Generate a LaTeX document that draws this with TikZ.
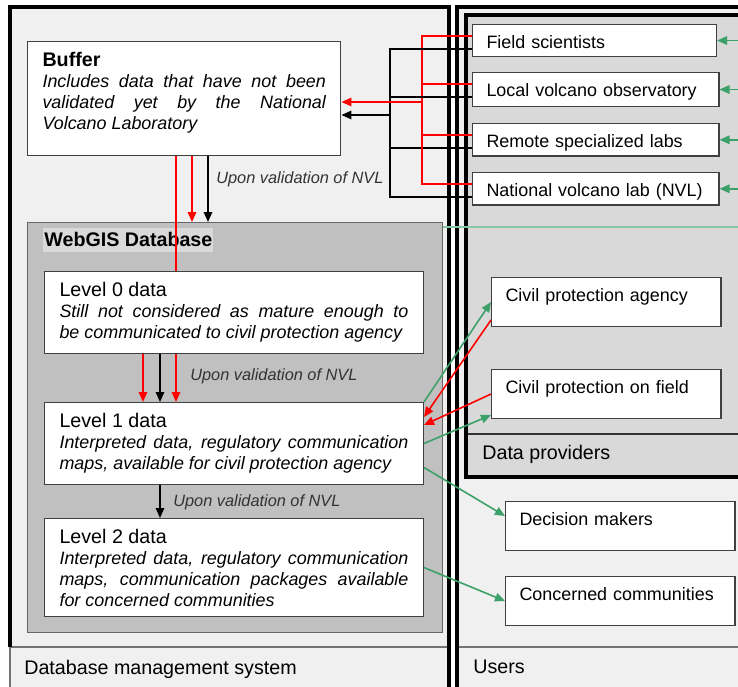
\documentclass[tikz,border=0pt]{standalone}
\usepackage{fontspec}
\setmainfont{Liberation Sans}
\usepackage{xcolor}
\usepackage{tikz}
\usetikzlibrary{arrows.meta, positioning, calc}

\definecolor{panelgray}{HTML}{F0F0F0}
\definecolor{provgray}{HTML}{D9D9D9}
\definecolor{dbgray}{HTML}{C0C0C0}
\definecolor{flowgreen}{RGB}{60,160,105}

\newcommand{\ttlfont}{\fontsize{11.2}{11.9}\selectfont}
\newcommand{\bdyfont}{\fontsize{10.2}{11.9}\selectfont}
\newcommand{\notefont}{\fontsize{9.3}{11}\selectfont\itshape}
\setlength{\parindent}{0pt}

\begin{document}
\begin{tikzpicture}[
        x=0.02cm, y=-0.02cm,
        every node/.style={font=\bdyfont},
        arr/.style={-{Triangle[length=0.2cm, width=0.17cm]}},
        flow/.style={line width=0.9pt},
        panel/.style={line width=1.9pt},
        databox/.style={draw=black!75, fill=white, line width=0.6pt, anchor=north west,
            text width=6.98cm, align=justify, inner xsep=0.3cm, inner ysep=0.2cm, text height=0.3cm},
        userbox/.style={draw=black!75, fill=white, line width=0.6pt, anchor=north west,
            align=left, inner xsep=0.28cm, inner ysep=0pt, text height=0.48cm},
        panellabel/.style={anchor=base west, inner sep=0pt, font=\ttlfont},
        vnote/.style={font=\notefont, text=black!80, anchor=base west, inner sep=0pt}
    ]
    \useasboundingbox (0,0) rectangle (738,687);
    \clip (0,0) rectangle (738,687);
    \fill[white] (0,0) rectangle (738,687);

    % panels
    \fill[panelgray] (10,7) rectangle (449,700);
    \fill[panelgray] (457,7) rectangle (760,700);
    \fill[provgray] (466,15) rectangle (760,477);
    \draw[black!55, line width=0.6pt] (10,647) -- (10,700) (10,647) -- (449,647);
    \draw[black!55, line width=0.6pt] (457,647) -- (760,647);
    \draw[black!80, line width=0.6pt] (466,434) -- (760,434);
    \draw[panel] (10,647) -- (10,7) -- (449,7) -- (449,700);
    \draw[panel] (457,700) -- (457,7) -- (760,7);
    \draw[panel] (760,477) -- (466,477) -- (466,15) -- (760,15);

    \node[panellabel] (dbmslbl) at (24,674) {Database management system};
    \node[panellabel] (userslbl) at (473,673) {Users};
    \node[panellabel] (provlbl) at (482,459) {Data providers};

    % database side
    \node[databox, text width=5.67cm, text depth=1.58cm] (buf) at (27,41)
        {{\ttlfont\bfseries Buffer\par}\itshape Includes data that have not been\linebreak validated yet by the National\linebreak Volcano Laboratory};

    \node[draw=black!60, fill=dbgray, line width=0.6pt, anchor=north west,
        minimum width=8.3cm, minimum height=8.2cm, inner sep=0pt] (webgis) at (27,222) {};
    \node[fill=provgray, anchor=base west, inner xsep=0.02cm, inner ysep=0pt,
        text height=0.36cm, text depth=0.12cm, font=\ttlfont\bfseries] (webgislbl) at (43,246) {WebGIS Database};

    \node[databox, text depth=0.94cm] (lvl0) at (44,271)
        {{\ttlfont Level 0 data\par}\itshape Still not considered as mature enough to\linebreak be communicated to civil protection agency};
    \node[databox, text depth=0.94cm] (lvl1) at (44,402)
        {{\ttlfont Level 1 data\par}\itshape Interpreted data, regulatory communication\linebreak maps, available for civil protection agency};
    \node[databox, text depth=1.26cm] (lvl2) at (44,518)
        {{\ttlfont Level 2 data\par}\itshape Interpreted data, regulatory communication\linebreak maps, communication packages available\linebreak for concerned communities};

    % providers and users
    \node[userbox, text width=4.32cm, text depth=0.16cm] (fs) at (472,24) {Field scientists};
    \node[userbox, text width=4.37cm, text depth=0.2cm] (lvo) at (472,72) {Local volcano observatory};
    \node[userbox, text width=4.37cm, text depth=0.17cm] (rsl) at (472,123) {Remote specialized labs};
    \node[userbox, text width=4.37cm, text depth=0.17cm] (nvl) at (472,172) {National volcano lab (NVL)};

    \node[userbox, text width=4.03cm, text depth=0.5cm] (cpa) at (491,277) {Civil protection agency};
    \node[userbox, text width=4.03cm, text depth=0.5cm] (cpf) at (491,369) {Civil protection on field};
    \node[userbox, text width=4.03cm, text depth=0.5cm] (dm) at (505,501) {Decision makers};
    \node[userbox, text width=4.03cm, text depth=0.5cm] (cc) at (505,576) {Concerned communities};

    % validation flow
    \coordinate (colA) at (143,0);
    \coordinate (colB) at (160,0);
    \coordinate (colC) at (176,0);
    \coordinate (colD) at (192,0);
    \coordinate (colE) at (208,0);

    \draw[red, flow] (buf.south -| colC) -- (lvl0.north -| colC);
    \draw[red, flow, arr] (buf.south -| colD) -- (webgis.north -| colD);
    \draw[flow, arr] (buf.south -| colE) -- (webgis.north -| colE);
    \node[vnote] (v0) at (216,183) {Upon validation of NVL};

    \draw[red, flow, arr] (lvl0.south -| colA) -- (lvl1.north -| colA);
    \draw[flow, arr] (lvl0.south -| colB) -- (lvl1.north -| colB);
    \draw[red, flow, arr] (lvl0.south -| colC) -- (lvl1.north -| colC);
    \node[vnote] (v1) at (190,380) {Upon validation of NVL};

    \draw[flow, arr] (lvl1.south -| colB) -- (lvl2.north -| colB);
    \node[vnote] (v2) at (173,506) {Upon validation of NVL};

    % providers -> buffer
    \coordinate (rbus) at (422,102);
    \coordinate (kbus) at (390,115);
    \foreach \src in {fs, lvo, rsl, nvl} {
        \draw[red, line width=0.6pt] ([yshift=-0.24cm]\src.north west) -| (rbus);
        \draw[line width=0.6pt] ([yshift=-0.5cm]\src.north west) -| (kbus);
    }
    \draw[red, flow, arr] (rbus) -- (rbus -| buf.east);
    \draw[flow, arr] (kbus) -- (kbus -| buf.east);

    % green feed from the right
    \coordinate (rim) at (745,0);
    \coordinate (gtap) at ([yshift=-0.1cm]webgis.north east);
    \draw[flowgreen!60, line width=0.6pt] (gtap) -- (gtap -| rim);
    \foreach \src in {fs, lvo, rsl, nvl}
        \draw[flowgreen, flow, arr] (\src.east -| rim) -- (\src.east);

    % level 1 / level 2 <-> users
    \draw[flowgreen, flow, arr] (lvl1.north east) -- (cpa.west);
    \draw[red, flow, arr] ([yshift=-0.36cm]cpa.west) -- ([yshift=-0.3cm]lvl1.north east);
    \draw[red, flow, arr] (cpf.west) -- ([yshift=-0.46cm]lvl1.north east);
    \draw[flowgreen, flow, arr] (lvl1.east) -- ([yshift=-0.42cm]cpf.west);
    \draw[flowgreen, flow, arr] ([yshift=-0.48cm]lvl1.east) -- ([yshift=0.2cm]dm.west);
    \draw[flowgreen, flow, arr] (lvl2.east) -- (cc.west);
\end{tikzpicture}
\end{document}
